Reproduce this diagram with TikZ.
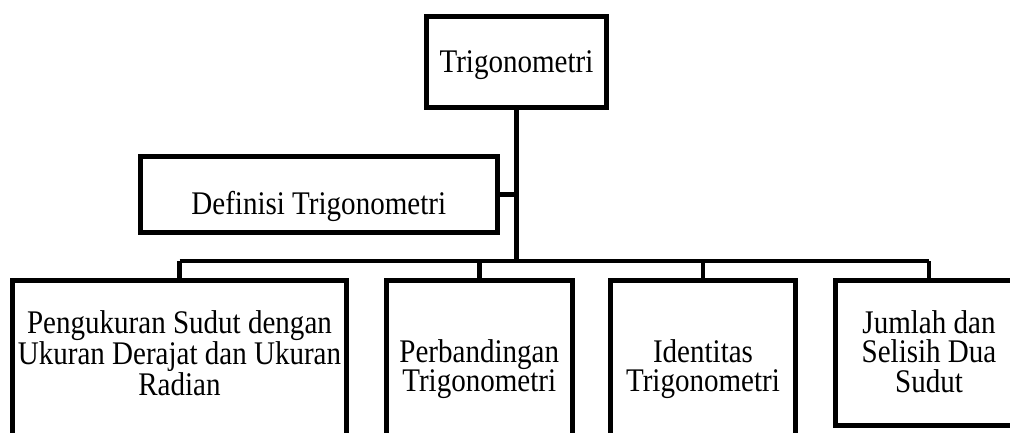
\documentclass[tikz,border=0pt]{standalone}
\usepackage{fontspec}
\setmainfont{Liberation Serif}
\newfontfamily\sqfont[FakeStretch=0.88]{Liberation Serif}
\newcommand\mytxtfont{\sqfont\fontsize{33}{29.5}\selectfont}
\begin{document}
\begin{tikzpicture}[x=1pt,y=-1pt,
  boxstyle/.style={draw=black,line width=5pt,inner sep=0pt,fill=none},
  txt/.style={font=\mytxtfont,align=center,inner sep=0pt},
  conn/.style={draw=black,line width=4.5pt}]
\clip (0,0) rectangle (1010,432);
\fill[white] (0,0) rectangle (1010,432);
% boxes
\node[boxstyle,minimum width=180pt,minimum height=91pt] (top) at (516.5,62) {};
\node[boxstyle,minimum width=356.5pt,minimum height=76pt] (def) at (318.75,194.5) {};
\node[boxstyle,minimum width=334pt,minimum height=180pt] (b1) at (179.5,370) {};
\node[boxstyle,minimum width=185.5pt,minimum height=180pt] (b2) at (479.25,370) {};
\node[boxstyle,minimum width=185pt,minimum height=180pt] (b3) at (703,370) {};
\node[boxstyle,minimum width=187pt,minimum height=145pt] (b4) at (929,353) {};
% texts
\node[txt] (ttop) at (516.5,65.4) {Trigonometri};
\node[txt] (tdef) at (318.75,206) {Definisi Trigonometri};
\node[txt] (t1) at (179.5,353.25) {Pengukuran Sudut dengan\\Ukuran Derajat dan Ukuran\\Radian};
\node[txt] (t2) at (479.25,369) {Perbandingan\\Trigonometri};
\node[txt] (t3) at (703,369) {Identitas\\Trigonometri};
\node[txt] (t4) at (929,351.25) {Jumlah dan\\Selisih Dua\\Sudut};
% connectors
\coordinate (j) at (516.5,261);
\draw[conn] (top.south) -- (j);
\draw[conn] (def.east) -- (def.east -| j);
\draw[conn] (b1.north |- j) -- (b4.north |- j);
\draw[conn] (b1.north |- j) -- (b1.north);
\draw[conn] (b2.north |- j) -- (b2.north);
\draw[conn] (b3.north |- j) -- (b3.north);
\draw[conn] (b4.north |- j) -- (b4.north);
\end{tikzpicture}
\end{document}
